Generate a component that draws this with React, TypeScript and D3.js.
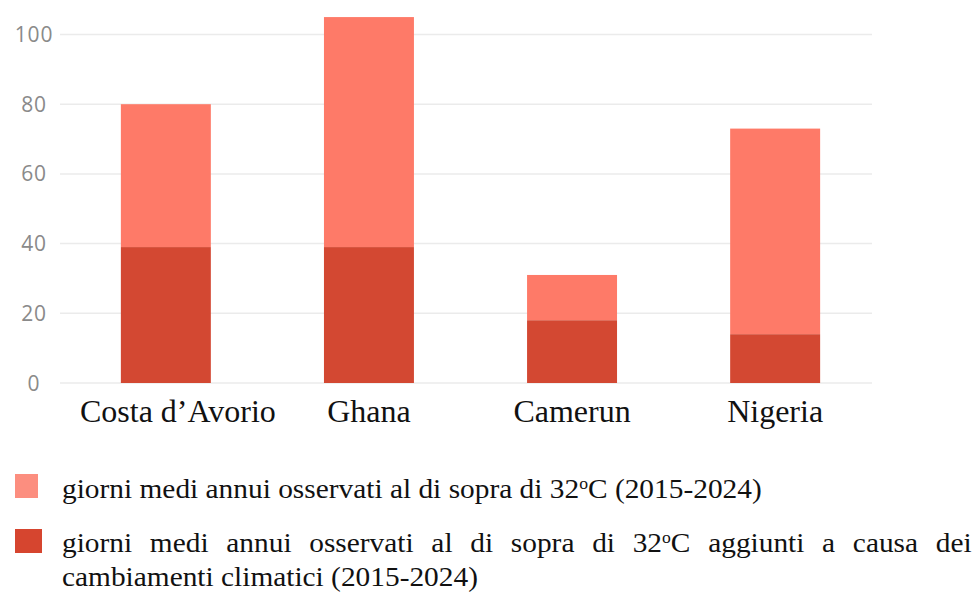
import { useEffect, useRef } from 'react';
import * as d3 from 'd3';

const countries = ['Costa d\u2019Avorio', 'Ghana', 'Camerun', 'Nigeria'];
// giorni osservati sopra i 32°C (totale barra)
const observedDays = [80, 105, 31, 73];
// quota aggiunta dai cambiamenti climatici (parte scura)
const climateDays = [39, 39, 18, 14];
const yTicks = [0, 20, 40, 60, 80, 100];

const legendSeries = ['observed', 'climate'];
const legendColors = ['#fc8e7f', '#d6452f'];
const barColors = { observed: '#fe7a68', climate: '#d34832' };

const legendLine1 = ['giorni medi annui osservati al di sopra di 32', 'o', 'C (2015-2024)'];
const legendLine2 = ['giorni medi annui osservati al di sopra di 32', 'o', 'C aggiunti a causa dei'];
const legendLine3 = ['cambiamenti climatici (2015-2024)'];

export default function App() {
  const svgRef = useRef<SVGSVGElement>(null);

  useEffect(() => {
    if (!svgRef.current) return;
    const width = 977;
    const height = 594;

    d3.select(svgRef.current).selectAll('*').remove();
    const svg = d3.select(svgRef.current).attr('width', width).attr('height', height);

    const x = d3.scaleBand<string>().domain(countries).range([64, 877]).paddingInner(0.557).paddingOuter(0.28);
    const y = d3.scaleLinear().domain([0, 100]).range([383, 34.5]);

    // Gridlines
    svg
      .selectAll('.grid')
      .data(yTicks)
      .enter()
      .append('line')
      .attr('x1', 60)
      .attr('x2', 872)
      .attr('y1', (d) => y(d))
      .attr('y2', (d) => y(d))
      .attr('stroke', '#ebebeb')
      .attr('stroke-width', 1.5);

    // Y tick labels
    svg
      .selectAll('.ytick')
      .data(yTicks)
      .enter()
      .append('text')
      .attr('x', 34)
      .attr('y', (d) => y(d))
      .attr('dy', '0.36em')
      .attr('text-anchor', 'middle')
      .attr('font-family', '"Open Sans", sans-serif')
      .attr('font-size', '21px')
      .attr('letter-spacing', '0.8px')
      .attr('fill', '#8a8a8a')
      .text((d) => d);

    const rows = countries.map((c, i) => ({ country: c, observed: observedDays[i], climate: climateDays[i] }));

    // Observed (light) bars
    svg
      .selectAll('.bar-observed')
      .data(rows)
      .enter()
      .append('rect')
      .attr('x', (d) => x(d.country)!)
      .attr('width', x.bandwidth())
      .attr('y', (d) => y(d.observed))
      .attr('height', (d) => y(d.climate) - y(d.observed))
      .attr('fill', barColors.observed);

    // Climate change (dark) bars
    svg
      .selectAll('.bar-climate')
      .data(rows)
      .enter()
      .append('rect')
      .attr('x', (d) => x(d.country)!)
      .attr('width', x.bandwidth())
      .attr('y', (d) => y(d.climate))
      .attr('height', (d) => y(0) - y(d.climate))
      .attr('fill', barColors.climate);

    // X labels (first one sits a bit right of its bar in the original)
    svg
      .selectAll('.xlabel')
      .data(countries)
      .enter()
      .append('text')
      .attr('x', (d, i) => x(d)! + x.bandwidth() / 2 + (i === 0 ? 12 : 0))
      .attr('y', 422)
      .attr('text-anchor', 'middle')
      .attr('font-family', '"Liberation Serif", "Times New Roman", serif')
      .attr('font-size', '32px')
      .attr('fill', '#111')
      .text((d) => d);

    // Legend swatches
    const swatches = [
      { x: 15, y: 474, w: 23, h: 24 },
      { x: 15, y: 529, w: 27, h: 24 },
    ];
    svg
      .selectAll('.swatch')
      .data(legendSeries)
      .enter()
      .append('rect')
      .attr('x', (_, i) => swatches[i].x)
      .attr('y', (_, i) => swatches[i].y)
      .attr('width', (_, i) => swatches[i].w)
      .attr('height', (_, i) => swatches[i].h)
      .attr('fill', (_, i) => legendColors[i]);

    const font = '"Liberation Serif", "Times New Roman", serif';
    const addLine = (parts: string[], baseline: number) => {
      const t = svg
        .append('text')
        .attr('x', 0)
        .attr('y', 0)
        .attr('font-family', font)
        .attr('font-size', '28px')
        .attr('fill', '#111');
      parts.forEach((p, i) => {
        const ts = t.append('tspan').text(p);
        if (parts.length > 1 && i === 1) {
          ts.attr('baseline-shift', 'super').attr('font-size', '0.6em');
        }
      });
      t.attr('transform', `translate(62,${baseline})`);
      return t;
    };

    const l1 = addLine(legendLine1, 498);
    const l2 = addLine(legendLine2, 552);
    const l3 = addLine(legendLine3, 586);

    // the legend text is condensed horizontally; line 2 is justified to the right edge
    const w1 = (l1.node() as SVGTextElement).getComputedTextLength();
    const r = 700 / w1;
    l1.attr('transform', `translate(62,498) scale(${r},1)`);
    const w2 = (l2.node() as SVGTextElement).getComputedTextLength();
    const spaces = legendLine2.join('').split(' ').length - 1;
    l2.attr('word-spacing', (910 / r - w2) / spaces).attr('transform', `translate(62,552) scale(${r},1)`);
    l3.attr('transform', `translate(62,586) scale(${r},1)`);
  }, []);

  return (
    <div style={{ position: 'absolute', left: 0, top: 0 }}>
      <svg ref={svgRef}></svg>
    </div>
  );
}
